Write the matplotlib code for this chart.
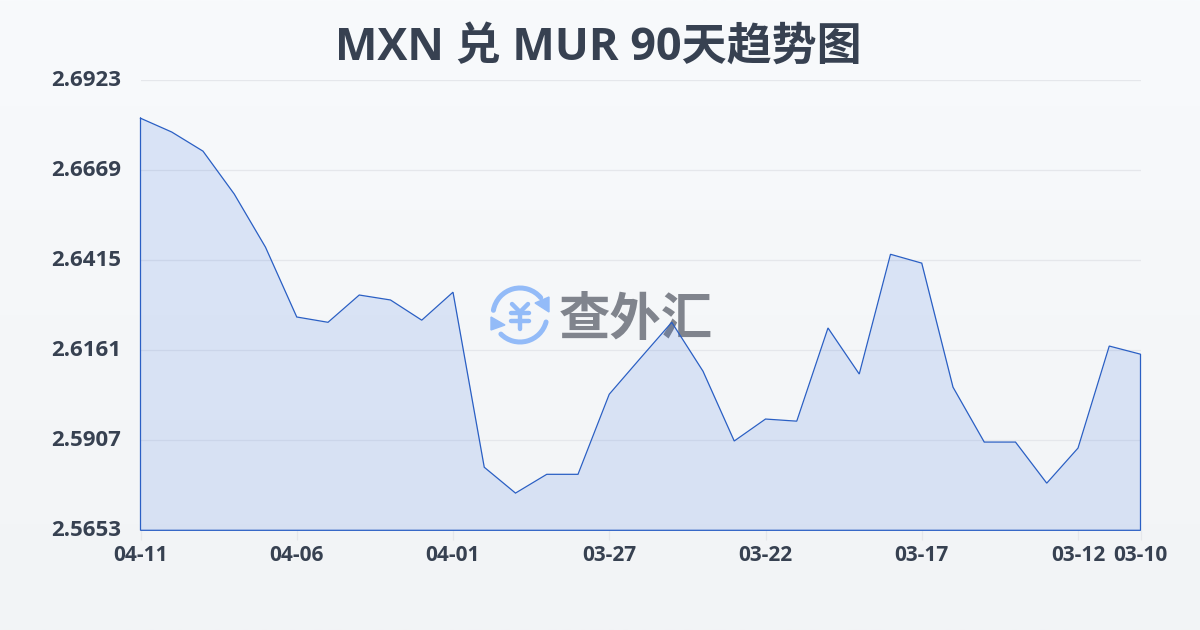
import numpy as np
import matplotlib
matplotlib.use("Agg")
import matplotlib.pyplot as plt
from matplotlib.patches import Arc, Polygon
from matplotlib.transforms import ScaledTranslation

FAM = ['Open Sans', 'Noto Sans CJK SC', 'DejaVu Sans']
plt.rcParams['font.family'] = FAM

TITLE = "MXN 兑 MUR 90天趋势图"
WATERMARK = "查外汇"
dates = ["04-11","04-10","04-09","04-08","04-07","04-06","04-05","04-04","04-03","04-02","04-01",
         "03-31","03-30","03-29","03-28","03-27","03-26","03-25","03-24","03-23","03-22",
         "03-21","03-20","03-19","03-18","03-17","03-16","03-15","03-14","03-13","03-12","03-11","03-10"]
values = [2.6816,2.6777,2.6723,2.6602,2.6452,2.6255,2.6240,2.6317,2.6303,2.6246,2.6325,
          2.5831,2.5758,2.5811,2.5811,2.6037,2.6139,2.6240,2.6102,2.5905,2.5967,
          2.5961,2.6224,2.6094,2.6432,2.6407,2.6057,2.5902,2.5902,2.5786,2.5885,2.6173,2.6150]
y_ticks = [2.5653,2.5907,2.6161,2.6415,2.6669,2.6923]
x_tick_idx = [0,5,10,15,20,25,30,32]

W, H = 1200, 630
TEXT = "#374151"; LINE = "#2a5fc4"; GRID = "#e5e7eb"; LOGO = "#93bbf8"

fig = plt.figure(figsize=(W/100, H/100), dpi=100)

bg = fig.add_axes([0, 0, 1, 1], zorder=0)
bg.axis("off")
grad = np.linspace(0, 1, 256).reshape(-1, 1, 1)
top = np.array([248, 250, 252]) / 255; bot = np.array([242, 244, 246]) / 255
bg.imshow(top + (bot - top) * grad, extent=[0, W, 0, H], aspect="auto", origin="upper", zorder=0)

cx, cy, d = 520, H - 315, 54
bg.add_patch(Arc((cx, cy), d, d, theta1=40, theta2=170, color=LOGO, lw=3.6, capstyle="round", zorder=1))
bg.add_patch(Arc((cx, cy), d, d, theta1=225, theta2=345, color=LOGO, lw=3.6, capstyle="round", zorder=1))
bg.add_patch(Polygon([(549, H-297), (549, H-312), (535, H-303)], closed=True, fc=LOGO, ec=LOGO, lw=1, zorder=1))
bg.add_patch(Polygon([(491, H-317), (491, H-330), (505, H-325)], closed=True, fc=LOGO, ec=LOGO, lw=1, zorder=1))
yen = dict(color=LOGO, lw=3.2, solid_capstyle="round", solid_joinstyle="round", zorder=1)
bg.plot([512, 520, 528], [H-304, H-312, H-304], **yen)
bg.plot([511, 529], [H-313, H-313], **yen)
bg.plot([511, 529], [H-321, H-321], **yen)
bg.plot([520, 520], [H-312, H-329], **yen)
bg.set_xlim(0, W); bg.set_ylim(0, H)
bg.text(636, H-319, WATERMARK, fontsize=37, fontweight="bold", color="#80848d",
        family=['Noto Sans CJK SC', 'DejaVu Sans'], ha="center", va="center", zorder=1)

fig.text(0.4985, 1 - 48/H, TITLE, fontsize=32.4, fontweight="bold", color=TEXT, ha="center", va="center", family=FAM)

L, R, T, B = 140.5, 1140.5, 80.3, 530.3
ax = fig.add_axes([L/W, 1 - B/H, (R-L)/W, (B-T)/H], zorder=1)
ax.patch.set_alpha(0)
for s in ax.spines.values():
    s.set_visible(False)
x = np.arange(len(values))
ax.set_xlim(0, len(values) - 1)
ax.set_ylim(y_ticks[0], y_ticks[-1])
ax.set_yticks(y_ticks); ax.set_yticklabels([f"{v:.4f}" for v in y_ticks])
ax.set_xticks(x_tick_idx); ax.set_xticklabels([dates[i] for i in x_tick_idx])
ax.yaxis.grid(True, color=GRID, lw=0.9); ax.set_axisbelow(True)
ax.tick_params(axis="y", length=0, pad=14, labelsize=16, labelcolor=TEXT)
ax.tick_params(axis="x", length=7.5, width=0.9, color=GRID, pad=3, labelsize=15, labelcolor=TEXT)
up = ScaledTranslation(0, 2.5/100, fig.dpi_scale_trans)
for lab in ax.get_yticklabels():
    lab.set_fontweight("bold")
    lab.set_transform(lab.get_transform() + up)
for lab in ax.get_xticklabels():
    lab.set_fontweight("bold")
ax.fill_between(x, values, y_ticks[0], color="#2f6ae0", alpha=0.14, lw=0, zorder=2)
ax.plot(np.r_[x, x[-1], x[0], x[0]], np.r_[values, y_ticks[0], y_ticks[0], values[0]],
        color=LINE, lw=0.9, zorder=3, clip_on=False, solid_joinstyle="miter")

fig.savefig("out.png", dpi=100)
